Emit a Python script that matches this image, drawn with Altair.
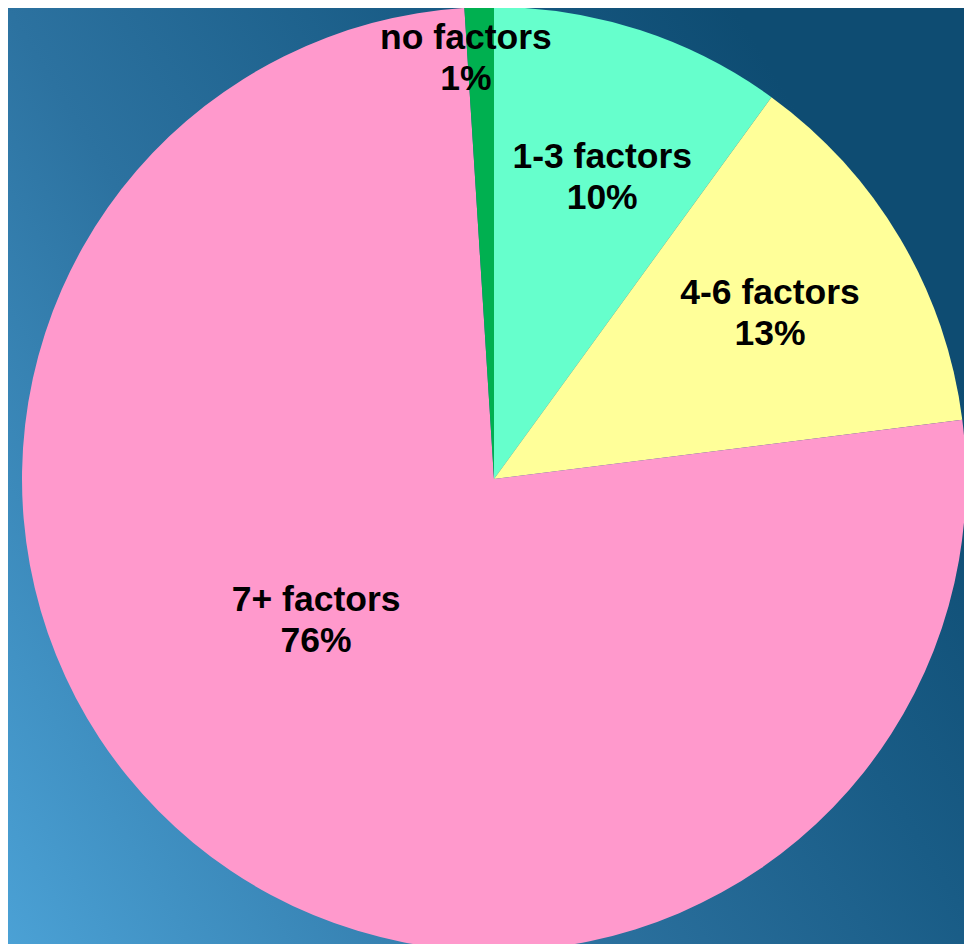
import altair as alt
import pandas as pd

# data
categories = ["1-3 factors", "4-6 factors", "7+ factors", "no factors"]
values = [10, 13, 76, 1]
pct_labels = ["10%", "13%", "76%", "1%"]
colors = ["#66FFCC", "#FFFF99", "#FF99CC", "#00B050"]

# label layout (angular nudge in % of circle, radius in px)
label_nudge = [0.47, -0.11, 3.33, -0.56]
label_radius = [321, 322, 227, 422]

W, H = 956, 936
CX, CY, R = 486, 471, 472

total = sum(values)
cum = 0
mids = []
for v in values:
    mids.append((cum + v / 2) / total * 100)
    cum += v

df = pd.DataFrame({
    "category": categories,
    "value": values,
    "order": list(range(len(categories))),
    "label": [f"{c}\n{p}" for c, p in zip(categories, pct_labels)],
    "label_pos": [m + n for m, n in zip(mids, label_nudge)],
    "label_r": label_radius,
})

bg = alt.Chart(pd.DataFrame({"a": [0]})).mark_rect(
    color=alt.LinearGradient(
        gradient="linear",
        x1=0, y1=1, x2=1, y2=0.4,
        stops=[
            alt.GradientStop(offset=0, color="#4BA1D5"),
            alt.GradientStop(offset=0.44, color="#2C72A0"),
            alt.GradientStop(offset=0.75, color="#195C86"),
            alt.GradientStop(offset=1, color="#0E4C72"),
        ],
    )
).encode(x=alt.value(0), x2=alt.value(W), y=alt.value(0), y2=alt.value(H))

pie = alt.Chart(df).mark_arc(radius=R, stroke=None).encode(
    theta=alt.Theta("value:Q", stack=True),
    order=alt.Order("order:O"),
    color=alt.Color("category:N", scale=alt.Scale(domain=categories, range=colors), legend=None),
    x=alt.value(CX),
    y=alt.value(CY),
)

text = alt.Chart(df).mark_text(
    font="Liberation Sans", fontWeight="bold", fontSize=35.5, lineBreak="\n",
    lineHeight=41, color="#000000", align="center", baseline="middle", dy=-20,
).encode(
    theta=alt.Theta("label_pos:Q", stack=False, scale=alt.Scale(domain=[0, 100], range=[0, 6.283185307179586])),
    radius=alt.Radius("label_r:Q", scale=alt.Scale(type="linear", domain=[0, 500], range=[0, 500], zero=True)),
    text="label:N",
    x=alt.value(CX),
    y=alt.value(CY),
)

chart = alt.layer(bg, pie, text).resolve_scale(theta="independent", radius="independent").properties(
    width=W, height=H, autosize=alt.AutoSizeParams(type="none"), padding=0,
).configure_view(stroke=None).configure(background="#2A6E9C")

chart.save("out.html", embed_options={"renderer": "svg", "actions": False})
